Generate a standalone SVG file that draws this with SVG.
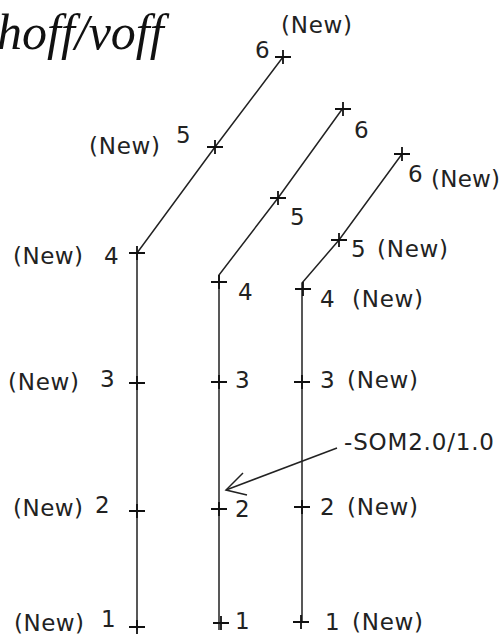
<svg xmlns="http://www.w3.org/2000/svg" width="503" height="635" viewBox="0 0 503 635">
<style>
.ln{fill:none;stroke:#222;stroke-width:1.5}
.cr{fill:none;stroke:#111;stroke-width:1.8}
.nw{font-family:"DejaVu Sans",Verdana,sans-serif;font-size:23px;fill:#222}
.dg{font-family:"DejaVu Sans",Verdana,sans-serif;font-size:23px;fill:#222}
.tt{font-family:"Liberation Serif","Times New Roman",serif;font-style:italic;font-size:50px;fill:#111}
</style>
<rect width="503" height="635" fill="#fff"/>
<text class="tt" x="-3" y="49">hoff/voff</text>
<g id="connectors">
<polyline class="ln" points="137,630 137,253 215,147 283,57"/>
<polyline class="ln" points="219,630 219,275 278,198 343,108"/>
<polyline class="ln" points="302,622 302,283 339,240 402,154"/>
<g id="arrow">
<line class="ln" x1="337" y1="448" x2="226" y2="490"/>
<polyline class="ln" points="243,473 226,490 247,495"/>
</g>
</g>
<g id="left">
<path class="cr" d="M129,627h16M137,620v14 M129,511h16M137,504v14 M129,383h16M137,376v14 M129,253h16M137,246v14 M207,147h16M215,140v14 M275,57h16M283,50v14"/>
<text class="nw" x="14" y="631" textLength="70">(New)</text><text class="dg" x="101" y="627">1</text>
<text class="nw" x="13" y="516" textLength="70">(New)</text><text class="dg" x="95" y="513">2</text>
<text class="nw" x="8" y="390" textLength="71">(New)</text><text class="dg" x="100" y="387">3</text>
<text class="nw" x="13" y="264" textLength="70">(New)</text><text class="dg" x="104" y="264">4</text>
<text class="nw" x="89" y="154" textLength="71">(New)</text><text class="dg" x="176" y="143">5</text>
<text class="nw" x="281" y="33" textLength="71">(New)</text><text class="dg" x="255" y="58">6</text>
</g>
<g id="middle">
<path class="cr" d="M213,623h16M221,616v14 M211,509h16M219,502v14 M211,382h16M219,375v14 M211,282h16M219,275v14 M270,198h16M278,191v14 M335,109h16M343,102v14"/>
<text class="dg" x="235" y="629">1</text>
<text class="dg" x="235" y="517">2</text>
<text class="dg" x="235" y="388">3</text>
<text class="dg" x="238" y="300">4</text>
<text class="dg" x="290" y="225">5</text>
<text class="dg" x="354" y="138">6</text>
</g>
<g id="right">
<path class="cr" d="M293,622h16M301,615v14 M294,507h16M302,500v14 M294,382h16M302,375v14 M295,289h16M303,282v14 M331,240h16M339,233v14 M394,154h16M402,147v14"/>
<text class="dg" x="325" y="630">1</text><text class="nw" x="352" y="630" textLength="71">(New)</text>
<text class="dg" x="320" y="515">2</text><text class="nw" x="347" y="515" textLength="71">(New)</text>
<text class="dg" x="320" y="388">3</text><text class="nw" x="347" y="388" textLength="71">(New)</text>
<text class="dg" x="320" y="307">4</text><text class="nw" x="352" y="307" textLength="71">(New)</text>
<text class="dg" x="351" y="257">5</text><text class="nw" x="377" y="257" textLength="71">(New)</text>
<text class="dg" x="408" y="182">6</text><text class="nw" x="431" y="187" textLength="69">(New)</text>
</g>
<g id="som">
<text class="dg" x="344" y="450" textLength="150">-SOM2.0/1.0</text>
</g>
</svg>
